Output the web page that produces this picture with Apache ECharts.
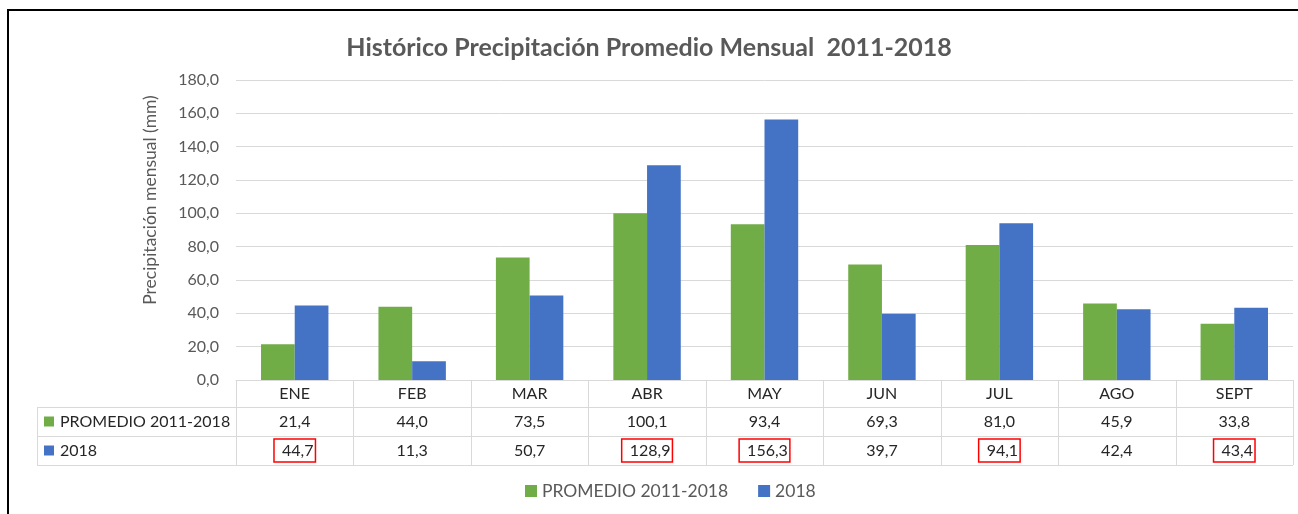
<!DOCTYPE html>
<html>
<head>
<meta charset="utf-8">
<script src="https://cdn.jsdelivr.net/npm/echarts@6/dist/echarts.min.js"></script>
<style>
  html, body { margin: 0; padding: 0; background: #fff; }
  #barChart { width: 1298px; height: 514px; }
</style>
</head>
<body>
<div id="barChart"></div>
<script>
  // datos
  const months = ['ENE', 'FEB', 'MAR', 'ABR', 'MAY', 'JUN', 'JUL', 'AGO', 'SEPT']
  const promedio = [21.4, 44.0, 73.5, 100.1, 93.4, 69.3, 81.0, 45.9, 33.8]
  const anio2018 = [44.7, 11.3, 50.7, 128.9, 156.3, 39.7, 94.1, 42.4, 43.4]
  // celdas marcadas en rojo (fila 2018)
  const marcados = ['ENE', 'ABR', 'MAY', 'JUL', 'SEPT']
  const seriesNames = ['PROMEDIO 2011-2018', '2018']
  const colors = ['#70AD47', '#4472C4']

  const font = 'Lato, "Open Sans", sans-serif'
  const fmt = v => v.toFixed(1).replace('.', ',')

  const gridLeft = 236, gridRight = 5, gridTop = 80, gridBottom = 134
  const W = 1298, H = 514
  const axisY = H - gridBottom
  const rowH = [27, 29, 29]
  const tableLeft = 37

  let barChart = echarts.init(document.getElementById('barChart'))

  // lineas de la tabla de datos
  const cw = (W - gridLeft - gridRight) / months.length
  const tableBottom = axisY + rowH[0] + rowH[1] + rowH[2]
  const lineStyle = { stroke: '#D9D9D9', lineWidth: 1 }
  const graphics = []
  for (let i = 0; i <= months.length; i++) {
    const x = Math.round(gridLeft + i * cw) + 0.5
    graphics.push({ type: 'line', shape: { x1: x, y1: axisY, x2: x, y2: tableBottom }, style: lineStyle, silent: true })
  }
  let yy = axisY + rowH[0]
  for (let r = 1; r <= 2; r++) {
    const y = Math.round(yy) + 0.5
    graphics.push({ type: 'line', shape: { x1: tableLeft, y1: y, x2: W - gridRight, y2: y }, style: lineStyle, silent: true })
    yy += rowH[r]
  }
  graphics.push({ type: 'line', shape: { x1: tableLeft, y1: tableBottom + 0.5, x2: W - gridRight, y2: tableBottom + 0.5 }, style: lineStyle, silent: true })
  graphics.push({ type: 'line', shape: { x1: tableLeft + 0.5, y1: axisY + rowH[0], x2: tableLeft + 0.5, y2: tableBottom }, style: lineStyle, silent: true })

  // claves de la tabla
  let ry = axisY + rowH[0]
  seriesNames.forEach((n, i) => {
    const cy = ry + rowH[i + 1] / 2
    graphics.push({ type: 'rect', shape: { x: 44, y: cy - 5, width: 10, height: 10 }, style: { fill: colors[i] }, silent: true })
    graphics.push({ type: 'text', x: 60, y: cy, style: { text: n, font: '16px ' + font, fill: '#262626', verticalAlign: 'middle' }, silent: true })
    ry += rowH[i + 1]
  })

  // titulo del eje y
  graphics.push({
    type: 'text', x: 150, y: 200, rotation: Math.PI / 2,
    style: { text: 'Precipitación mensual (mm)', font: '17.5px ' + font, fill: '#595959', align: 'center', verticalAlign: 'middle' },
    silent: true
  })

  // marco
  graphics.push({ type: 'rect', shape: { x: 8, y: 10, width: 1400, height: 600 }, style: { fill: 'none', stroke: '#000', lineWidth: 2 }, silent: true })

  barChart.setOption({
    animation: false,
    color: colors,
    title: {
      text: 'Histórico Precipitación Promedio Mensual  2011-2018',
      left: 'center',
      top: 30,
      textStyle: { fontFamily: font, fontSize: 25, fontWeight: 'bold', color: '#595959' }
    },
    legend: {
      data: seriesNames,
      bottom: 9,
      left: 520,
      icon: 'rect',
      itemWidth: 12,
      itemHeight: 12,
      itemGap: 30,
      textStyle: { fontFamily: font, fontSize: 17.5, color: '#595959' }
    },
    grid: { left: gridLeft, right: gridRight, top: gridTop, bottom: gridBottom },
    xAxis: {
      type: 'category',
      data: months,
      axisTick: { show: false },
      axisLine: { lineStyle: { color: '#D9D9D9' } },
      axisLabel: {
        margin: 0,
        interval: 0,
        formatter: (value, idx) => {
          const key = marcados.includes(value) ? 'r' : 'v'
          return '{h|' + value + '}\n{v|' + fmt(promedio[idx]) + '}\n{' + key + '|' + fmt(anio2018[idx]) + '}'
        },
        rich: {
          h: { fontFamily: font, fontSize: 16, color: '#262626', lineHeight: rowH[0] },
          v: { fontFamily: font, fontSize: 16, color: '#262626', lineHeight: rowH[1] },
          r: { fontFamily: font, fontSize: 16, color: '#262626', lineHeight: rowH[2], borderColor: '#FF0000', borderWidth: 1.5, padding: [4, 2, 3, 8] }
        }
      }
    },
    yAxis: {
      type: 'value',
      min: 0,
      max: 180,
      interval: 20,
      axisLine: { show: false },
      axisTick: { show: false },
      splitLine: { lineStyle: { color: '#D9D9D9' } },
      axisLabel: { margin: 17, formatter: v => fmt(v), fontFamily: font, fontSize: 16, color: '#595959' }
    },
    graphic: graphics,
    series: [
      { name: seriesNames[0], type: 'bar', data: promedio, barWidth: '28.7%', barGap: '0%' },
      { name: seriesNames[1], type: 'bar', data: anio2018, barWidth: '28.7%', barGap: '0%' }
    ]
  })
</script>
</body>
</html>
